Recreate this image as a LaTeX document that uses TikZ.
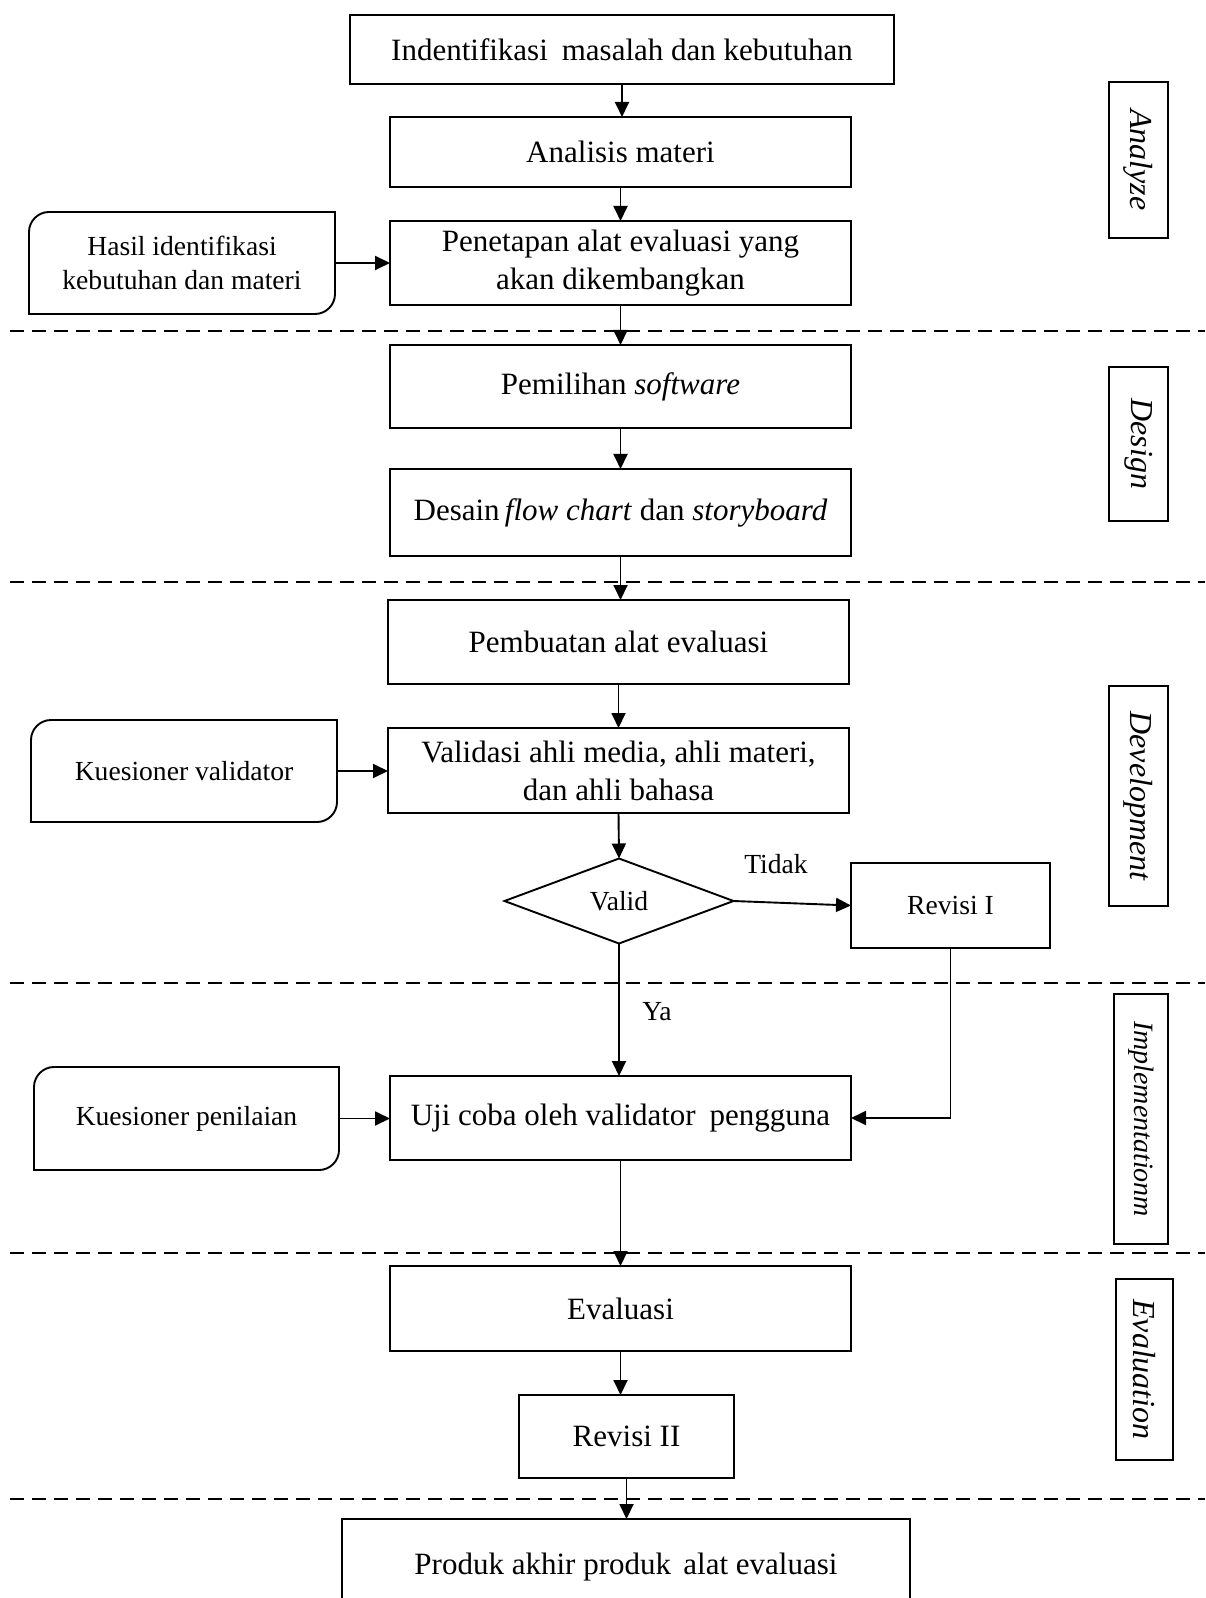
\documentclass[tikz,border=0pt]{standalone}
\usepackage{fontspec}
\setmainfont{Liberation Serif}
\usetikzlibrary{arrows.meta,shapes.geometric}
\begin{document}
\begin{tikzpicture}[x=0.5pt,y=-0.5pt,
  box/.style={draw,line width=0.95pt,rectangle,inner sep=0pt,outer sep=0pt,align=center,
    font=\fontsize{15.5}{19}\selectfont},
  mainbox/.style={box,minimum width=230.5pt},
  inbox/.style={rectangle,inner sep=0pt,outer sep=0pt,align=center,minimum width=153pt,minimum height=51pt,
    font=\fontsize{13.8}{17}\selectfont},
  inline/.style={line width=0.95pt},
  side/.style={draw,line width=0.95pt,rectangle,inner sep=0pt,outer sep=0pt,rotate=-90,
    font=\fontsize{16}{19}\selectfont\itshape},
  lbl/.style={inner sep=0pt,font=\fontsize{13.8}{17}\selectfont},
  arr/.style={line width=0.95pt,-{Triangle[length=7.5pt,width=7pt]}},
  sep/.style={line width=0.95pt,dash pattern=on 7pt off 4pt}]
\useasboundingbox (0,0) rectangle (1205,1598);

% separators
\coordinate (s1a) at (10,331);  \coordinate (s1b) at (1205,331);
\coordinate (s2a) at (10,582);  \coordinate (s2b) at (1205,582);
\coordinate (s3a) at (10,983);  \coordinate (s3b) at (1205,983);
\coordinate (s4a) at (10,1253); \coordinate (s4b) at (1205,1253);
\coordinate (s5a) at (10,1499); \coordinate (s5b) at (1205,1499);
\draw[sep] (s1a) -- (s1b);
\draw[sep] (s2a) -- (s2b);
\draw[sep] (s3a) -- (s3b);
\draw[sep] (s4a) -- (s4b);
\draw[sep] (s5a) -- (s5b);

% main boxes
\node[box,minimum width=272pt,minimum height=34.5pt] (b1) at (622,49.5) {Indentifikasi\hspace{0.45em}masalah dan kebutuhan};
\node[mainbox,minimum height=35pt] (b2) at (620.5,152) {Analisis materi};
\node[mainbox,minimum height=42pt] (b3) at (620.5,263) {Penetapan alat evaluasi yang\\akan dikembangkan};
\node[mainbox,minimum height=41.5pt] (b4) at (620.5,386.5) {Pemilihan \textit{software}};
\node[mainbox,minimum height=43.5pt] (b5) at (620.5,512.5) {Desain\,\textit{flow chart} dan \textit{storyboard}};
\node[mainbox,minimum height=42pt] (b6) at (618.5,642) {Pembuatan alat evaluasi};
\node[mainbox,minimum height=42.5pt] (b7) at (618.5,770.5) {Validasi ahli media, ahli materi,\\dan ahli bahasa};
\node[draw,line width=0.95pt,diamond,inner sep=0pt,outer sep=0pt,minimum width=114.5pt,minimum height=42.5pt,
  font=\fontsize{13.8}{17}\selectfont] (dia) at (619,901) {Valid};
\node[box,minimum width=99.5pt,minimum height=42.5pt,font=\fontsize{13.8}{17}\selectfont] (rev1) at (950.5,905.5) {Revisi I};
\node[mainbox,minimum height=42pt] (b8) at (620.5,1118) {Uji coba oleh validator\hspace{0.45em}pengguna};
\node[mainbox,minimum height=42.5pt] (b9) at (620.5,1308.5) {Evaluasi};
\node[box,minimum width=107.5pt,minimum height=41.5pt] (b10) at (626.5,1436.5) {Revisi II};
\node[box,minimum width=284pt,minimum height=60pt,text depth=0pt] (b11) at (626,1579) {\raisebox{15pt}{Produk akhir produk\hspace{0.4em}alat evaluasi}};

% input boxes (rounded top-left and bottom-right)
\node[inbox] (hasil) at (182,263) {Hasil identifikasi\\kebutuhan dan materi};
\node[inbox] (kval) at (184,771) {Kuesioner validator};
\node[inbox,minimum width=152.5pt,minimum height=51.5pt] (kpen) at (186.5,1118.5) {Kuesioner penilaian};
\foreach \n in {hasil,kval,kpen}{
  \draw[inline] (\n.south west) -- ([yshift=-10pt]\n.north west)
    .. controls ([yshift=-4.5pt]\n.north west) and ([xshift=4.5pt]\n.north west) .. ([xshift=10pt]\n.north west)
    -- (\n.north east) -- ([yshift=10pt]\n.south east)
    .. controls ([yshift=4.5pt]\n.south east) and ([xshift=-4.5pt]\n.south east) .. ([xshift=-10pt]\n.south east) -- cycle;
}

% side labels
\node[side,minimum width=78pt,minimum height=29.5pt] (sa) at (1138.5,160) {Analyze};
\node[side,minimum width=77pt,minimum height=29.5pt] (sd) at (1138.5,444) {Design};
\node[side,minimum width=110pt,minimum height=29.5pt] (sdev) at (1138.5,796) {Development};
\node[side,minimum width=125pt,minimum height=27pt,font=\fontsize{14}{17}\selectfont\itshape] (simp) at (1141,1119) {Implementationm};
\node[side,minimum width=90.5pt,minimum height=28.5pt] (sev) at (1144.5,1369.5) {Evaluation};

% connectors
\draw[arr] (b1.south) -- (b1.south |- b2.north);
\draw[arr] (b2.south) -- (b3.north);
\draw[arr] (hasil.east) -- (hasil.east -| b3.west);
\draw[arr] (b3.south) -- (b4.north);
\draw[arr] (b4.south) -- (b5.north);
\draw[arr] (b5.south) -- (b6.north -| b5.south);
\draw[arr] (b6.south) -- (b7.north);
\draw[arr] (kval.east) -- (kval.east -| b7.west);
\draw[arr] (b7.south) -- (dia.north);
\draw[arr] (dia.east) -- (rev1.west);
\node[lbl] (tidak) at (776,864) {Tidak};
\draw[arr] (dia.south) -- (dia.south |- b8.north);
\node[lbl] (ya) at (657,1012) {Ya};
\draw[arr] (rev1.south) -- (rev1.south |- b8.east) -- (b8.east);
\draw[arr] (kpen.east) -- (kpen.east -| b8.west);
\draw[arr] (b8.south) -- (b8.south |- b9.north);
\draw[arr] (b9.south) -- (b9.south |- b10.north);
\draw[arr] (b10.south) -- (b10.south |- b11.north);
\end{tikzpicture}
\end{document}
